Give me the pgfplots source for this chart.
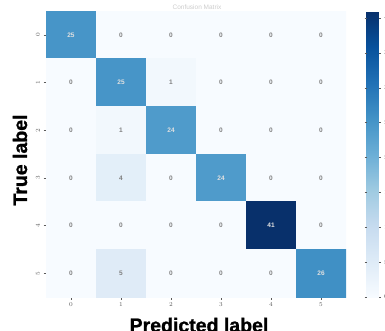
\documentclass[border=0pt]{standalone}
\usepackage{pgfplots}
\pgfplotsset{compat=1.18}
\usepackage{fontspec}
\setmainfont{Liberation Sans}
\newfontfamily\heavy{Liberation Sans Bold}[FakeBold=1.2]
\pgfplotstableread{
x y c
0 0 25
1 0 0
2 0 0
3 0 0
4 0 0
5 0 0
0 1 0
1 1 25
2 1 1
3 1 0
4 1 0
5 1 0
0 2 0
1 2 1
2 2 24
3 2 0
4 2 0
5 2 0
0 3 0
1 3 4
2 3 0
3 3 24
4 3 0
5 3 0
0 4 0
1 4 0
2 4 0
3 4 0
4 4 41
5 4 0
0 5 0
1 5 5
2 5 0
3 5 0
4 5 0
5 5 26
}\cm
\pgfplotstableread{
x y v
0 0 25
1 1 25
2 2 24
3 3 24
4 4 41
5 5 26
}\hi
\pgfplotstableread{
x y v
1 0 0
2 0 0
3 0 0
4 0 0
5 0 0
0 1 0
2 1 1
3 1 0
4 1 0
5 1 0
0 2 0
1 2 1
3 2 0
4 2 0
5 2 0
0 3 0
1 3 4
2 3 0
4 3 0
5 3 0
0 4 0
1 4 0
2 4 0
3 4 0
5 4 0
0 5 0
1 5 5
2 5 0
3 5 0
4 5 0
}\lo
\definecolor{tk}{RGB}{90,90,90}
\begin{document}
\begin{tikzpicture}[x=1pt,y=1pt]
\useasboundingbox (0,0) rectangle (385,330);
\begin{axis}[
  at={(46pt,33pt)}, anchor=south west,
  scale only axis, width=300pt, height=286pt,
  xmin=-0.5, xmax=5.5, ymin=-0.5, ymax=5.5,
  y dir=reverse, enlargelimits=false,
  xtick={0,...,5}, ytick={0,...,5},
  axis line style={draw=none},
  tick align=outside, major tick length=2.5pt,
  tick style={tk, line width=0.4pt},
  xtick pos=bottom, ytick pos=left,
  tick label style={font=\fontsize{6}{7}\selectfont, text=tk},
  yticklabel style={rotate=90, anchor=south},
  colormap={blues}{rgb255=(247,251,255) rgb255=(222,235,247) rgb255=(198,219,239) rgb255=(158,202,225) rgb255=(107,174,214) rgb255=(66,146,198) rgb255=(33,113,181) rgb255=(8,81,156) rgb255=(8,48,107)},
  point meta min=0, point meta max=41,
  colorbar,
  colorbar style={
    at={(parent axis.north east)}, anchor=north west, xshift=12pt, width=12pt,
    axis line style={draw=none},
    ytick={0,5,...,40}, yticklabel pos=right,
    tick align=outside, major tick length=2pt,
    tick style={tk, line width=0.4pt},
    yticklabel style={font=\fontsize{6}{7}\selectfont, text=tk},
  },
]
\addplot[matrix plot*, mesh/cols=6, mesh/ordering=x varies, point meta=explicit] table[x=x, y=y, meta=c] {\cm};
\addplot[only marks, mark=none, nodes near coords, point meta=explicit symbolic,
  every node near coord/.append style={anchor=center, font=\bfseries\fontsize{6.5}{7}\selectfont, text=white!88!black}]
  table[x=x, y=y, meta=v] {\hi};
\addplot[only marks, mark=none, nodes near coords, point meta=explicit symbolic,
  every node near coord/.append style={anchor=center, font=\bfseries\fontsize{6.5}{7}\selectfont, text=black!50}]
  table[x=x, y=y, meta=v] {\lo};
\end{axis}
\node[font=\fontsize{6.5}{7}\selectfont, text=black!20] at (197,323) {Confusion Matrix};
\node[font=\heavy\fontsize{19.5}{20}\selectfont, anchor=base] at (199,-2) {Predicted label};
\node[font=\heavy\fontsize{19.5}{20}\selectfont, rotate=90, anchor=base] at (27,170) {True label};
\end{tikzpicture}
\end{document}
